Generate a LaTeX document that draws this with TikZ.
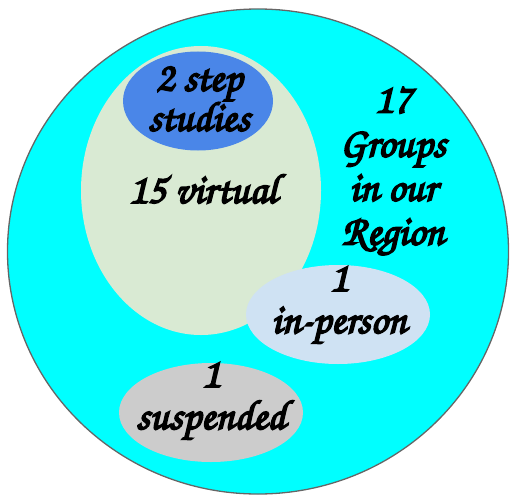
\documentclass[tikz,border=0pt]{standalone}
\usepackage{fontspec}
\newfontfamily\scr{TeX Gyre Chorus}[FakeBold=4]
\definecolor{bigc}{HTML}{00FFFF}
\definecolor{greenc}{HTML}{D9EAD3}
\definecolor{bluec}{HTML}{4A86E8}
\definecolor{lbluec}{HTML}{CFE2F3}
\definecolor{grayc}{HTML}{CCCCCC}
\definecolor{edgec}{HTML}{666666}
\begin{document}
\begin{tikzpicture}[x=1pt,y=-1pt,
  lbl/.style={font=\scr\fontsize{42}{40}\selectfont, align=center, text=black, inner sep=0pt}]
\useasboundingbox (0,0) rectangle (510,497);
\fill[bigc, draw=edgec, line width=1.3pt] (258,251.5) ellipse [x radius=250.5, y radius=242.5];
\fill[greenc] (201,190.5) ellipse [x radius=120, y radius=144.5];
\fill[bluec] (198,101) ellipse [x radius=75, y radius=49.5];
\fill[lbluec] (338,314.5) ellipse [x radius=92, y radius=49.5];
\fill[grayc] (211,412.5) ellipse [x radius=92, y radius=49.5];
\node[lbl] (steps) at (199,99) {2 step\\studies};
\node[lbl] (virt) at (203,189) {15 virtual};
\node[lbl, font=\scr\fontsize{42}{44}\selectfont] (total) at (393,171) {17\\Groups\\in our\\Region};
\node[lbl, font=\scr\fontsize{42}{42}\selectfont] (inp) at (339,305) {1\\in-person};
\node[lbl, font=\scr\fontsize{42}{42}\selectfont] (susp) at (211,401) {1\\suspended};
\end{tikzpicture}
\end{document}
